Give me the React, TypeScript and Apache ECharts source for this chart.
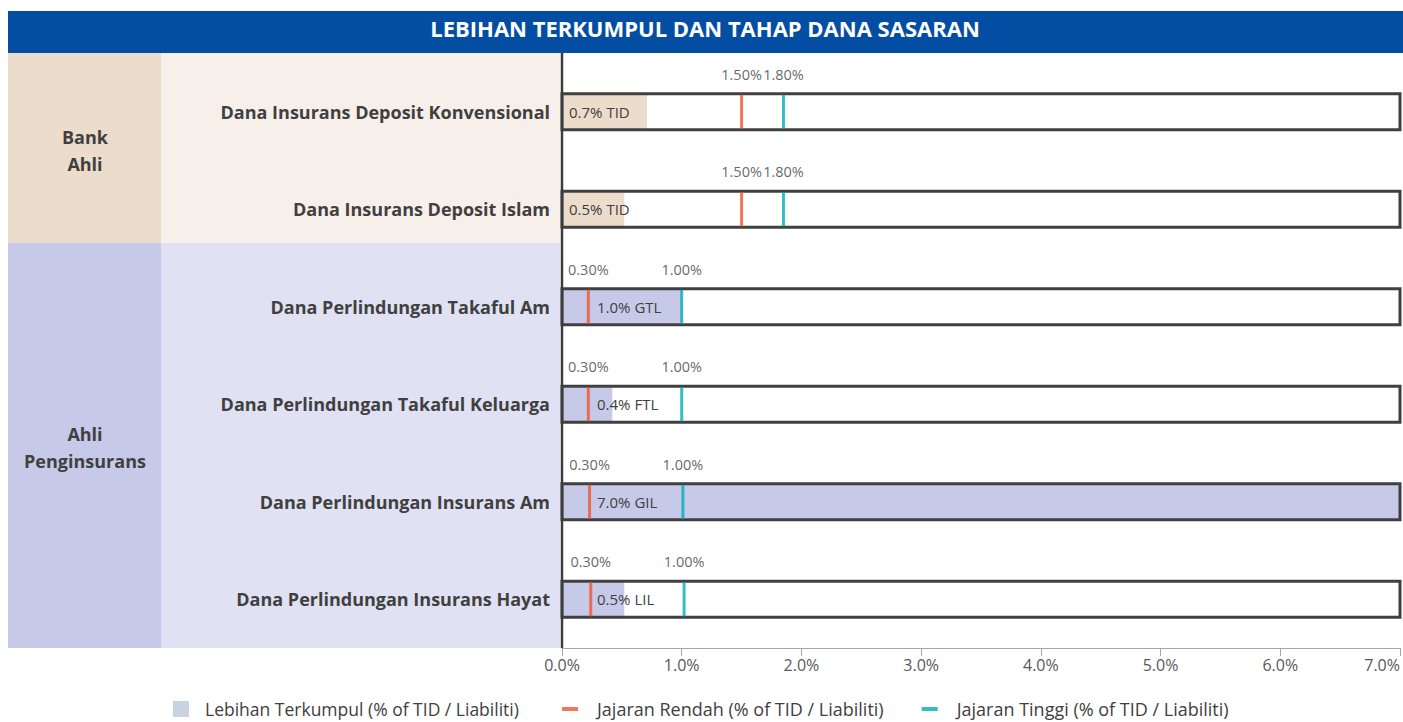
import React, { useEffect, useRef } from "react";
import * as echarts from "echarts";

const TITLE = "LEBIHAN TERKUMPUL DAN TAHAP DANA SASARAN";
const CATEGORIES = [
  "Dana Insurans Deposit Konvensional",
  "Dana Insurans Deposit Islam",
  "Dana Perlindungan Takaful Am",
  "Dana Perlindungan Takaful Keluarga",
  "Dana Perlindungan Insurans Am",
  "Dana Perlindungan Insurans Hayat",
];
const GROUPS = ["Bank Ahli", "Bank Ahli", "Ahli Penginsurans", "Ahli Penginsurans", "Ahli Penginsurans", "Ahli Penginsurans"];
const GROUP_LABELS = ["Bank\nAhli", "Ahli\nPenginsurans"];
const SURPLUS = [0.71, 0.52, 1.0, 0.42, 7.0, 0.52];
const SURPLUS_LABELS = ["0.7% TID", "0.5% TID", "1.0% GTL", "0.4% FTL", "7.0% GIL", "0.5% LIL"];
const LOW = [1.5, 1.5, 0.22, 0.22, 0.23, 0.24];
const LOW_LABELS = ["1.50%", "1.50%", "0.30%", "0.30%", "0.30%", "0.30%"];
const HIGH = [1.85, 1.85, 1.0, 1.0, 1.01, 1.02];
const HIGH_LABELS = ["1.80%", "1.80%", "1.00%", "1.00%", "1.00%", "1.00%"];
const X_MIN = 0;
const X_MAX = 7;
const X_STEP = 1;
const LEGEND_SURPLUS = "Lebihan Terkumpul (% of TID / Liabiliti)";
const LEGEND_LOW = "Jajaran Rendah (% of TID / Liabiliti)";
const LEGEND_HIGH = "Jajaran Tinggi (% of TID / Liabiliti)";

const FONT = "'Open Sans', sans-serif";
const TEXT = "#404040";
const BAR_COLORS: Record<string, string> = { "Bank Ahli": "#ecdccb", "Ahli Penginsurans": "#c6c9e7" };
const LABEL_SHIFT: Record<string, number> = { "Bank Ahli": 0, "Ahli Penginsurans": 28 };

export default function App() {
  const ref = useRef<HTMLDivElement>(null);
  useEffect(() => {
    document.body.style.margin = "0";
    const chart = echarts.init(ref.current!, null, { renderer: "svg" });
    const option: any = {
      animation: false,
      textStyle: { fontFamily: FONT },
      title: {
        text: TITLE,
        left: 705,
        top: 17,
        textAlign: "center",
        padding: 0,
        textStyle: { color: "#ffffff", fontSize: 22, fontWeight: "bold", fontFamily: FONT },
      },
      graphic: [
        { type: "rect", z: -5, shape: { x: 8, y: 11, width: 1395, height: 42 }, style: { fill: "#034ea2" } },
        { type: "rect", z: -5, shape: { x: 8, y: 53, width: 153, height: 190 }, style: { fill: "#ecdccb" } },
        { type: "rect", z: -5, shape: { x: 161, y: 53, width: 399, height: 190 }, style: { fill: "#f7efe9" } },
        { type: "rect", z: -5, shape: { x: 8, y: 243, width: 153, height: 405 }, style: { fill: "#c6c9e8" } },
        { type: "rect", z: -5, shape: { x: 161, y: 243, width: 399, height: 405 }, style: { fill: "#e0e1f2" } },
        {
          type: "text", z: 1, x: 85, y: 150,
          style: { text: GROUP_LABELS[0], align: "center", verticalAlign: "middle", fill: TEXT, font: `bold 18px ${FONT}`, lineHeight: 27 },
        },
        {
          type: "text", z: 1, x: 85, y: 447,
          style: { text: GROUP_LABELS[1], align: "center", verticalAlign: "middle", fill: TEXT, font: `bold 18px ${FONT}`, lineHeight: 27 },
        },
        { type: "line", z: 10, shape: { x1: 562, y1: 53, x2: 562, y2: 648 }, style: { stroke: "#3c3c3c", lineWidth: 2.5 } },
      ],
      legend: [
        {
          data: [LEGEND_SURPLUS],
          left: 173,
          top: 700,
          padding: 0,
          itemWidth: 16,
          itemHeight: 16,
          icon: "rect",
          textStyle: { color: TEXT, fontSize: 17.5, fontFamily: FONT, padding: [0, 0, 0, 11] },
        },
        {
          data: [LEGEND_LOW, LEGEND_HIGH],
          left: 562,
          top: 700,
          padding: 0,
          itemWidth: 16,
          itemHeight: 4,
          itemGap: 38,
          icon: "rect",
          textStyle: { color: TEXT, fontSize: 18, fontFamily: FONT, padding: [0, 0, 0, 14] },
        },
      ],
      grid: { left: 562, right: 3, top: 63, bottom: 74, outerBoundsMode: "none", containLabel: false },
      xAxis: {
        type: "value",
        min: X_MIN,
        max: X_MAX,
        interval: X_STEP,
        axisLine: { show: true, lineStyle: { color: "#a6a6a6", width: 1 } },
        axisTick: { show: true, length: 8, lineStyle: { color: "#a6a6a6" } },
        splitLine: { show: false },
        axisLabel: {
          formatter: (v: number) => v.toFixed(1) + "%",
          color: "#595959",
          fontSize: 16,
          margin: 9,
          fontFamily: FONT,
          alignMaxLabel: "right",
        },
      },
      yAxis: [
        {
          type: "category",
          data: CATEGORIES,
          inverse: true,
          axisLine: { show: false },
          axisTick: { show: false },
          axisLabel: { color: TEXT, fontSize: 18, fontWeight: "bold", margin: 12, fontFamily: FONT },
        },
        { type: "category", data: CATEGORIES, inverse: true, show: false },
      ],
      series: [
        {
          name: LEGEND_SURPLUS,
          type: "bar",
          yAxisIndex: 0,
          barWidth: 34,
          z: 2,
          itemStyle: { color: "#c9d4e2" },
          data: SURPLUS.map((v, i) => ({
            value: v,
            itemStyle: { color: BAR_COLORS[GROUPS[i]] },
            label: { offset: [LABEL_SHIFT[GROUPS[i]], 0] },
          })),
          label: {
            show: true,
            position: "insideLeft",
            distance: 7,
            formatter: (p: any) => SURPLUS_LABELS[p.dataIndex],
            color: TEXT,
            fontSize: 15,
            fontFamily: FONT,
          },
        },
        {
          type: "bar",
          yAxisIndex: 1,
          barWidth: 36,
          z: 3,
          silent: true,
          data: SURPLUS,
          itemStyle: { color: "rgba(0,0,0,0)" },
          showBackground: true,
          backgroundStyle: { color: "rgba(0,0,0,0)", borderColor: "#404040", borderWidth: 3 },
        },
        {
          name: LEGEND_LOW,
          type: "scatter",
          yAxisIndex: 0,
          z: 4,
          symbol: "rect",
          symbolSize: [3, 34],
          itemStyle: { color: "#f0552f" },
          data: LOW.map((v, i) => [v, i]),
          label: {
            show: true,
            position: "top",
            distance: 13,
            formatter: (p: any) => LOW_LABELS[p.dataIndex],
            color: TEXT,
            fontSize: 14.5,
            fontFamily: FONT,
          },
        },
        {
          name: LEGEND_HIGH,
          type: "scatter",
          yAxisIndex: 0,
          z: 4,
          symbol: "rect",
          symbolSize: [3, 34],
          itemStyle: { color: "#00aeb9" },
          data: HIGH.map((v, i) => [v, i]),
          label: {
            show: true,
            position: "top",
            distance: 13,
            formatter: (p: any) => HIGH_LABELS[p.dataIndex],
            color: TEXT,
            fontSize: 14.5,
            fontFamily: FONT,
          },
        },
      ],
    };
    chart.setOption(option);
    return () => chart.dispose();
  }, []);
  return <div ref={ref} style={{ width: 1403, height: 722 }} />;
}
